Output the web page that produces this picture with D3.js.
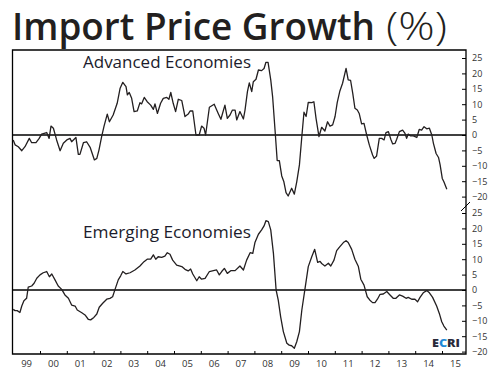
<!DOCTYPE html>
<html>
<head>
<meta charset="utf-8">
<script src="https://cdn.jsdelivr.net/npm/d3@7"></script>
<style>
  body { margin: 0; background: #fff; }
  svg { display: block; }
</style>
</head>
<body>
<div id="chart"></div>
<script>
// data: decimal years and % growth
const advDates = [1999.00, 1999.07, 1999.19, 1999.32, 1999.44, 1999.60, 1999.69, 1999.85, 1999.97, 2000.06,
  2000.25, 2000.34, 2000.41, 2000.50, 2000.62, 2000.75, 2000.87, 2001.00, 2001.12, 2001.18,
  2001.34, 2001.43, 2001.49, 2001.62, 2001.74, 2001.87, 2002.03, 2002.12, 2002.20, 2002.30,
  2002.39, 2002.51, 2002.59, 2002.73, 2002.88, 2002.99, 2003.09, 2003.21, 2003.26, 2003.33,
  2003.42, 2003.51, 2003.63, 2003.73, 2003.79, 2003.89, 2004.00, 2004.13, 2004.23, 2004.29,
  2004.38, 2004.50, 2004.60, 2004.73, 2004.81, 2004.88, 2004.97, 2005.06, 2005.16, 2005.29,
  2005.41, 2005.53, 2005.60, 2005.70, 2005.82, 2005.94, 2006.03, 2006.12, 2006.18, 2006.32,
  2006.50, 2006.65, 2006.75, 2006.90, 2006.99, 2007.09, 2007.18, 2007.28, 2007.34, 2007.46,
  2007.59, 2007.65, 2007.74, 2007.81, 2007.90, 2007.96, 2008.06, 2008.15, 2008.27, 2008.36,
  2008.43, 2008.51, 2008.61, 2008.68, 2008.77, 2008.85, 2008.93, 2009.02, 2009.10, 2009.18,
  2009.26, 2009.39, 2009.49, 2009.58, 2009.68, 2009.77, 2009.85, 2009.93, 2010.01, 2010.14,
  2010.22, 2010.30, 2010.41, 2010.51, 2010.63, 2010.73, 2010.82, 2010.92, 2011.01, 2011.09,
  2011.19, 2011.29, 2011.42, 2011.50, 2011.59, 2011.67, 2011.75, 2011.84, 2011.91, 2012.00,
  2012.09, 2012.19, 2012.29, 2012.41, 2012.47, 2012.56, 2012.66, 2012.75, 2012.84, 2012.91,
  2013.00, 2013.09, 2013.16, 2013.25, 2013.31, 2013.41, 2013.53, 2013.62, 2013.68, 2013.74,
  2013.83, 2013.93, 2014.06, 2014.15, 2014.24, 2014.33, 2014.43, 2014.53, 2014.62, 2014.68,
  2014.78, 2014.87, 2014.93, 2015.01, 2015.07, 2015.18];
const advValues = [-1.6, -3.2, -3.8, -5.1, -3.8, -1.1, -2.5, -2.5, -1.1, 0.3,
  0.8, -1.1, 2.9, 2.2, -1.6, -5.1, -2.7, -1.6, -1.1, -2.2,
  -0.8, -6.3, -6.3, -2.5, -2.2, -4.0, -8.1, -7.6, -4.9, -0.5,
  2.9, 6.8, 4.3, 6.5, 10.3, 15.2, 17.1, 15.7, 13.0, 13.8,
  11.9, 7.6, 7.8, 10.5, 10.1, 12.2, 10.8, 9.7, 8.3, 10.1,
  7.0, 10.3, 11.9, 12.2, 11.6, 13.8, 10.3, 7.6, 11.6, 11.2,
  6.0, 6.8, 7.8, 7.8, 0.0, 0.0, 2.9, 2.2, 0.0, 9.0,
  10.0, 7.0, 5.1, 9.7, 5.4, 6.5, 8.1, 8.1, 4.9, 7.6,
  5.2, 8.1, 14.1, 16.9, 14.1, 17.3, 18.1, 21.1, 20.9, 21.6,
  23.6, 23.6, 17.9, 12.4, 1.6, -8.3, -8.3, -13.3, -15.2, -18.7,
  -19.8, -17.3, -19.2, -15.2, -9.7, -0.5, 7.4, 6.0, 10.6, 10.5,
  10.8, 5.4, -0.5, 2.5, 1.3, 4.3, 2.9, 3.3, 6.0, 10.5,
  14.3, 16.8, 21.6, 17.9, 17.7, 13.5, 8.7, 8.1, 7.0, 3.6,
  3.8, 0.0, -3.3, -6.5, -7.6, -6.8, -1.1, -1.1, -1.6, 0.8,
  1.1, -1.4, -2.9, -2.7, -1.4, 1.1, 1.6, 0.5, -1.1, 0.3,
  -0.3, -0.3, -0.8, 1.8, 1.6, 2.7, 2.0, 2.2, 0.0, -2.7,
  -6.0, -7.3, -9.7, -14.1, -15.2, -17.6];

const emgDates = [1999.00, 1999.07, 1999.15, 1999.25, 1999.32, 1999.40, 1999.50, 1999.56, 1999.69, 1999.78,
  1999.88, 2000.00, 2000.12, 2000.25, 2000.35, 2000.44, 2000.56, 2000.68, 2000.81, 2000.93,
  2001.06, 2001.18, 2001.31, 2001.39, 2001.56, 2001.68, 2001.80, 2001.89, 2002.01, 2002.12,
  2002.21, 2002.34, 2002.49, 2002.61, 2002.71, 2002.80, 2002.92, 2003.01, 2003.09, 2003.21,
  2003.36, 2003.54, 2003.73, 2003.88, 2004.00, 2004.13, 2004.23, 2004.32, 2004.41, 2004.54,
  2004.66, 2004.75, 2004.85, 2004.95, 2005.10, 2005.29, 2005.41, 2005.53, 2005.62, 2005.70,
  2005.85, 2005.94, 2006.03, 2006.16, 2006.32, 2006.47, 2006.59, 2006.69, 2006.78, 2006.88,
  2006.99, 2007.13, 2007.28, 2007.46, 2007.59, 2007.71, 2007.84, 2007.94, 2008.02, 2008.15,
  2008.27, 2008.36, 2008.43, 2008.52, 2008.61, 2008.71, 2008.81, 2008.89, 2008.98, 2009.08,
  2009.21, 2009.30, 2009.39, 2009.49, 2009.58, 2009.68, 2009.77, 2009.89, 2010.01, 2010.14,
  2010.25, 2010.36, 2010.45, 2010.51, 2010.63, 2010.76, 2010.85, 2010.97, 2011.07, 2011.19,
  2011.32, 2011.42, 2011.50, 2011.63, 2011.75, 2011.88, 2011.97, 2012.09, 2012.21, 2012.31,
  2012.41, 2012.50, 2012.59, 2012.69, 2012.81, 2012.94, 2013.06, 2013.18, 2013.28, 2013.41,
  2013.53, 2013.66, 2013.74, 2013.87, 2013.99, 2014.09, 2014.18, 2014.30, 2014.43, 2014.53,
  2014.65, 2014.80, 2014.90, 2014.99, 2015.07, 2015.18];
const emgValues = [-6.3, -6.7, -6.7, -7.3, -5.2, -3.5, -2.7, 0.9, 1.3, 2.2,
  3.8, 4.9, 5.6, 6.0, 4.3, 5.2, 3.3, 1.3, 0.2, -1.6,
  -2.7, -4.9, -5.2, -6.5, -7.4, -8.1, -9.5, -9.7, -8.9, -7.8,
  -5.6, -4.3, -3.0, -2.7, -2.2, 0.2, 3.3, 4.6, 6.0, 5.2,
  5.6, 6.5, 7.8, 9.2, 10.0, 10.0, 11.4, 10.0, 10.8, 10.6,
  11.0, 12.1, 11.6, 9.7, 8.1, 7.6, 6.7, 6.2, 6.8, 5.2,
  3.0, 4.3, 3.5, 3.8, 6.0, 6.3, 6.5, 4.9, 6.0, 7.0,
  5.4, 6.3, 6.3, 7.8, 6.5, 9.7, 12.1, 11.9, 15.4, 18.1,
  19.5, 20.8, 22.5, 22.2, 19.5, 11.9, 0.0, -3.3, -8.7, -13.5,
  -17.3, -17.9, -18.1, -18.9, -16.8, -13.5, -6.5, 0.5, 7.6, 10.8,
  13.2, 9.0, 9.3, 8.6, 7.8, 8.7, 7.8, 9.7, 12.8, 14.1,
  15.4, 16.0, 15.4, 13.2, 10.0, 7.6, 3.5, 1.6, -2.2, -3.3,
  -4.1, -4.1, -3.0, -1.4, -1.3, -0.5, -1.6, -2.7, -2.7, -1.6,
  -2.0, -2.7, -2.4, -3.0, -3.0, -3.8, -2.4, -0.9, -0.2, -0.9,
  -2.4, -5.2, -7.6, -10.3, -11.7, -13.0];

const yearTicks = d3.range(2000, 2016);
const yearLabels = ["99", "00", "01", "02", "03", "04", "05", "06", "07", "08", "09", "10", "11", "12", "13", "14", "15"];
const valueTicks = [25, 20, 15, 10, 5, 0, -5, -10, -15, -20];

const width = 495, height = 375;
const frame = { left: 12.5, right: 466, top: 50, bottom: 354 };
const font = "'Open Sans', Lato, sans-serif";

const svg = d3.select("#chart")
  .append("svg")
  .attr("width", width)
  .attr("height", height)
  .style("font-family", font);

// scales
const x = d3.scaleLinear().domain([1999, 2016]).range([13.2, 468.8]);
const yTop = d3.scaleLinear().domain([-20, 25]).range([196.6, 58]);
const yBot = d3.scaleLinear().domain([-20, 25]).range([351.6, 213]);

// title
svg.append("text")
  .attr("x", 12)
  .attr("y", 40)
  .attr("fill", "#231f20")
  .attr("textLength", 363)
  .attr("lengthAdjust", "spacingAndGlyphs")
  .style("font-size", "38px")
  .style("font-weight", 600)
  .text("Import Price Growth");
svg.append("text")
  .attr("x", 386)
  .attr("y", 40)
  .attr("fill", "#231f20")
  .attr("textLength", 61)
  .attr("lengthAdjust", "spacingAndGlyphs")
  .style("font-size", "38px")
  .style("font-weight", 300)
  .text("(%)");

// right axes (ticks point inward)
function rightAxis(y) {
  const g = svg.append("g")
    .attr("transform", `translate(${frame.right}, 0)`)
    .call(d3.axisRight(y).tickValues(valueTicks).tickSize(-4).tickSizeOuter(0).tickPadding(6));
  g.select(".domain").remove();
  g.selectAll("line").attr("stroke", "#000");
  g.selectAll("text")
    .attr("fill", "#333")
    .style("font-size", "9px")
    .style("font-family", font);
}
rightAxis(yTop);
rightAxis(yBot);

// bottom axis ticks at year starts
const gx = svg.append("g")
  .attr("transform", `translate(0, ${frame.bottom})`)
  .call(d3.axisBottom(x).tickValues(yearTicks).tickSize(-3).tickFormat(""));
gx.select(".domain").remove();
gx.selectAll("line").attr("stroke", "#000");

// year labels centred in each year
svg.append("g")
  .selectAll("text")
  .data(yearLabels)
  .enter()
  .append("text")
  .attr("x", (d, i) => x(1999.5 + i))
  .attr("y", 367)
  .attr("text-anchor", "middle")
  .attr("fill", "#333")
  .style("font-size", "9.5px")
  .text((d) => d);

// frame
svg.append("path")
  .attr("d", `M${frame.left},${frame.bottom}V${frame.top}H${frame.right}V${frame.bottom}Z`)
  .attr("fill", "none")
  .attr("stroke", "#000")
  .attr("stroke-width", 1.3);

// axis break mark
svg.append("line")
  .attr("x1", frame.right - 5).attr("y1", 211)
  .attr("x2", frame.right + 4).attr("y2", 202)
  .attr("stroke", "#000")
  .attr("stroke-width", 1);

// zero lines
[yTop, yBot].forEach((y) => {
  svg.append("line")
    .attr("x1", frame.left).attr("x2", frame.right)
    .attr("y1", y(0)).attr("y2", y(0))
    .attr("stroke", "#000")
    .attr("stroke-width", 1.3);
});

// series lines
const lineTop = d3.line().x((d) => x(d[0])).y((d) => yTop(d[1]));
const lineBot = d3.line().x((d) => x(d[0])).y((d) => yBot(d[1]));

svg.append("path")
  .datum(d3.zip(advDates, advValues))
  .attr("d", lineTop)
  .attr("fill", "none")
  .attr("stroke", "#231f20")
  .attr("stroke-width", 1.3)
  .attr("stroke-linejoin", "round");

svg.append("path")
  .datum(d3.zip(emgDates, emgValues))
  .attr("d", lineBot)
  .attr("fill", "none")
  .attr("stroke", "#231f20")
  .attr("stroke-width", 1.3)
  .attr("stroke-linejoin", "round");

// panel labels
svg.append("text")
  .attr("x", 83).attr("y", 68)
  .attr("fill", "#1c1c2c")
  .attr("textLength", 168)
  .attr("lengthAdjust", "spacingAndGlyphs")
  .style("font-size", "15.5px")
  .text("Advanced Economies");

svg.append("text")
  .attr("x", 83).attr("y", 238)
  .attr("fill", "#1c1c2c")
  .attr("textLength", 168)
  .attr("lengthAdjust", "spacingAndGlyphs")
  .style("font-size", "15.5px")
  .text("Emerging Economies");

// ECRI mark
const logo = svg.append("text")
  .attr("x", 432).attr("y", 347)
  .attr("textLength", 28)
  .attr("lengthAdjust", "spacingAndGlyphs")
  .style("font-size", "11px")
  .style("font-weight", 800)
  .attr("fill", "#2a2a3a");
logo.append("tspan").text("E");
logo.append("tspan").attr("fill", "#1e8ad6").text("C");
logo.append("tspan").text("RI");
</script>
</body>
</html>
